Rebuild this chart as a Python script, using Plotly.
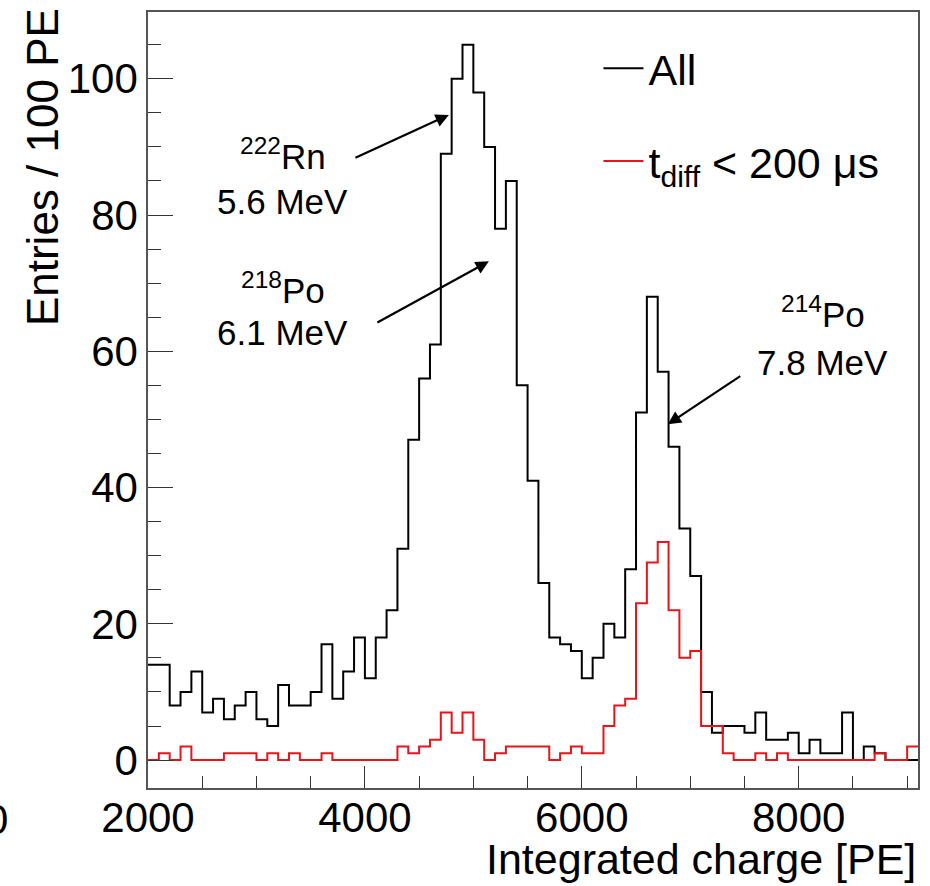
import plotly.graph_objects as go

# Bin lower edges (100 PE bins)
bin_lo = list(range(2000, 9100, 100))
bin_width = 100

all_counts = [14, 14, 8, 10, 13, 7, 9, 6, 8, 10,
              6, 5, 11, 8, 8, 10, 17, 9, 13, 18,
              12, 18, 22, 31, 47, 56, 61, 89, 100, 105,
              98, 90, 78, 85, 55, 41, 26, 18, 17, 16,
              12, 15, 20, 18, 28, 51, 68, 57, 46, 34,
              27, 10, 4, 5, 5, 4, 7, 3, 3, 4,
              1, 3, 1, 1, 7, 0, 2, 1, 0, 0,
              0]
tdiff_counts = [0, 1, 0, 2, 0, 0, 0, 1, 1, 1,
                0, 1, 0, 1, 0, 0, 1, 0, 0, 0,
                0, 0, 0, 2, 1, 2, 3, 7, 4, 7,
                3, 0, 1, 2, 2, 2, 2, 0, 1, 2,
                1, 1, 5, 8, 9, 23, 29, 32, 22, 15,
                16, 5, 5, 1, 0, 0, 1, 0, 1, 0,
                0, 0, 0, 0, 0, 0, 0, 1, 0, 0,
                2]

x_ticks = [2000, 4000, 6000, 8000]
y_ticks = [0, 20, 40, 60, 80, 100]

# Peak labels: (line1, line2, x, y_line1, y_line2)
labels = [
    ("<sup>222</sup>Rn", "5.6 MeV", 3244, 89.0, 82.0),
    ("<sup>218</sup>Po", "6.1 MeV", 3244, 69.3, 62.7),
    ("<sup>214</sup>Po", "7.8 MeV", 8221, 65.8, 58.3),
]
# Arrows: (head_x, head_y, tail_x, tail_y)
arrows = [
    (4774, 94.7, 3899, 88.3),
    (5143, 73.2, 4101, 64.1),
    (6793, 49.3, 7475, 56.5),
]

FONT = "Liberation Sans, Arial, Helvetica, sans-serif"


def step_xy(lo, counts):
    xs = list(lo) + [lo[-1] + bin_width]
    ys = list(counts) + [counts[-1]]
    return xs, ys


fig = go.Figure()
xa, ya = step_xy(bin_lo, all_counts)
fig.add_trace(go.Scatter(x=xa, y=ya, mode="lines", line=dict(shape="hv", color="black", width=2),
                         name="All", legendgroup="a"))
xr, yr = step_xy(bin_lo, tdiff_counts)
fig.add_trace(go.Scatter(x=xr, y=yr, mode="lines", line=dict(shape="hv", color="#e8141c", width=2),
                         name="t<sub>diff</sub> &lt; 200 μs", legendgroup="b"))

annotations = []
for l1, l2, x, y1, y2 in labels:
    annotations.append(dict(x=x, y=y1, xref="x", yref="y", text=l1, showarrow=False,
                            font=dict(size=35, color="black", family=FONT),
                            xanchor="center", yanchor="middle"))
    annotations.append(dict(x=x, y=y2, xref="x", yref="y", text=l2, showarrow=False,
                            font=dict(size=35, color="black", family=FONT),
                            xanchor="center", yanchor="middle"))
for hx, hy, tx, ty in arrows:
    annotations.append(dict(x=hx, y=hy, ax=tx, ay=ty, xref="x", yref="y", axref="x", ayref="y",
                            text="", showarrow=True, arrowhead=2, arrowsize=1.2, arrowwidth=2.2,
                            arrowcolor="black"))

# axis titles
annotations.append(dict(x=-0.136, y=1.008, xref="paper", yref="paper", text="Entries / 100 PE",
                        textangle=-90, showarrow=False, xanchor="center", yanchor="top",
                        font=dict(size=44, color="black", family=FONT)))
annotations.append(dict(x=1.0, y=-0.092, xref="paper", yref="paper", text="Integrated charge [PE]",
                        showarrow=False, xanchor="right", yanchor="middle",
                        font=dict(size=43, color="black", family=FONT)))
# cut-off label at far left edge
annotations.append(dict(x=-0.179, y=-0.008, xref="paper", yref="paper", text="0",
                        showarrow=False, xanchor="right", yanchor="top",
                        font=dict(size=42, color="black", family=FONT)))

fig.update_layout(
    width=930, height=886,
    margin=dict(l=148, r=12, t=10, b=98),
    paper_bgcolor="white", plot_bgcolor="white",
    font=dict(family=FONT, color="black"),
    showlegend=True,
    legend=dict(x=0.585, y=0.972, xanchor="left", yanchor="top",
                font=dict(size=43, color="black", family=FONT),
                bgcolor="rgba(0,0,0,0)", tracegroupgap=34, itemwidth=40),
    annotations=annotations,
    xaxis=dict(range=[2000, 9100], tickvals=x_ticks, ticks="inside", ticklen=22, tickwidth=1.2,
               tickcolor="#333", showgrid=False, zeroline=False, showline=True, linecolor="#555",
               linewidth=1.5, mirror=True, tickfont=dict(size=42, color="black", family=FONT),
               ticklabelstandoff=-8,
               minor=dict(dtick=500, ticks="inside", ticklen=12, tickcolor="#333", tickwidth=1.2,
                          showgrid=False)),
    yaxis=dict(range=[-4.1, 109.8], tickvals=y_ticks, ticks="inside", ticklen=25, tickwidth=1.2,
               tickcolor="#333", showgrid=False, zeroline=False, showline=True, linecolor="#555",
               linewidth=1.5, mirror=True, tickfont=dict(size=42, color="black", family=FONT),
               minor=dict(dtick=5, ticks="inside", ticklen=13, tickcolor="#333", tickwidth=1.2,
                          showgrid=False)),
)

fig.write_html("out.html")
